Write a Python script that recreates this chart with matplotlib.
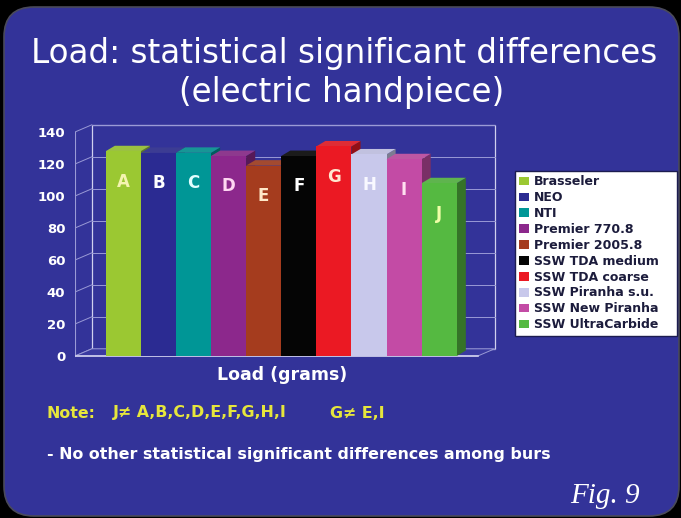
import matplotlib
matplotlib.use("Agg")
import matplotlib.pyplot as plt
from matplotlib.patches import Polygon, Rectangle, FancyBboxPatch
import matplotlib.colors as mcolors
import numpy as np

# ---------------- data ----------------
burs = ["Brasseler", "NEO", "NTI", "Premier 770.8", "Premier 2005.8",
        "SSW TDA medium", "SSW TDA coarse", "SSW Piranha s.u.",
        "SSW New Piranha", "SSW UltraCarbide"]
letters = ["A", "B", "C", "D", "E", "F", "G", "H", "I", "J"]
load = [128, 127, 127, 125, 119, 125, 131, 126, 123, 108]
bar_colors = ["#9bc832", "#2b2b92", "#009696", "#8c288c", "#a53c1e",
              "#050505", "#eb1923", "#c8c8eb", "#c34ba5", "#55b941"]
letter_colors = ["#f4f4b0", "#ffffff", "#e0ffff", "#ffd6f2", "#ffe8c8",
                 "#ffffff", "#ffe8d0", "#f8f8ff", "#ffe0f0", "#f0ffa8"]
yticks = [0, 20, 40, 60, 80, 100, 120, 140]

BG = "#333399"
W, H = 681, 518

fig = plt.figure(figsize=(W / 100, H / 100), dpi=100)
fig.patch.set_facecolor("black")

# background slide axes in pixel coordinates (y from top)
bg = fig.add_axes([0, 0, 1, 1], zorder=0)
bg.set_xlim(0, W)
bg.set_ylim(H, 0)
bg.axis("off")
bg.add_patch(FancyBboxPatch((4, 7), 675, 509,
                            boxstyle="round,pad=0,rounding_size=30",
                            facecolor=BG, edgecolor="#4a4a5a", linewidth=1.2))

# titles and notes
bg.text(344, 63, "Load: statistical significant differences", color="white",
        fontsize=23.5, ha="center", va="baseline", family="DejaVu Sans")
bg.text(342, 102, "(electric handpiece)", color="white",
        fontsize=23.5, ha="center", va="baseline", family="DejaVu Sans")
bg.text(282, 375, "Load (grams)", color="white", fontsize=12.5,
        fontweight="bold", ha="center", va="center")
yellow = "#e6e63c"
bg.text(47, 413, "Note:", color=yellow, fontsize=11.4, fontweight="bold",
        ha="left", va="center")
bg.text(113, 413, "J\u2260 A,B,C,D,E,F,G,H,I", color=yellow, fontsize=11.4,
        fontweight="bold", ha="left", va="center")
bg.text(330, 413, "G\u2260 E,I", color=yellow, fontsize=11.4,
        fontweight="bold", ha="left", va="center")
bg.text(47, 455, "- No other statistical significant differences among burs",
        color="white", fontsize=11.4, fontweight="bold", ha="left", va="center")
bg.text(570, 503, "Fig. 9", color="white", fontsize=21, style="italic",
        family="Liberation Serif", ha="left", va="baseline")

# ---------------- chart axes ----------------
x0, x1 = -1.375, 10.1
xlim = (-1.375, 10.8)
ylim = (-6, 148)
px_per_x = 35.1
px_per_y = 1.6
ax_left = 75
ax_right = ax_left + (xlim[1] - xlim[0]) * px_per_x
ax_bottom_px = 356 + (0 - ylim[0]) * px_per_y
ax_top_px = 356 - ylim[1] * px_per_y
ax = fig.add_axes([ax_left / W, (H - ax_bottom_px) / H,
                   (ax_right - ax_left) / W, (ax_bottom_px - ax_top_px) / H],
                  zorder=1)
ax.set_xlim(*xlim)
ax.set_ylim(*ylim)
ax.patch.set_visible(False)
for s in ax.spines.values():
    s.set_visible(False)
ax.set_xticks([])
ax.set_yticks(yticks)
ax.set_yticklabels([str(v) for v in yticks], color="white",
                   fontsize=9.5, fontweight="bold")
ax.tick_params(axis="y", length=0, pad=7)

grid_c = "#9a9ad6"
edge_c = "#d0d0ee"
wdx, wdy = 0.48, 4.5
ymax = yticks[-1]

# back wall, left wall, floor
ax.add_patch(Rectangle((x0 + wdx, wdy), x1 - x0, ymax, facecolor="none",
                       edgecolor=edge_c, linewidth=0.9, zorder=1))
for v in yticks:
    ax.plot([x0 + wdx, x1 + wdx], [v + wdy, v + wdy], color=grid_c,
            linewidth=0.7, zorder=1)
    ax.plot([x0, x0 + wdx], [v, v + wdy], color=grid_c, linewidth=0.7, zorder=1)
ax.plot([x0, x0], [0, ymax], color=grid_c, linewidth=0.8, zorder=1)
ax.add_patch(Polygon([(x0, 0), (x1, 0), (x1 + wdx, wdy), (x0 + wdx, wdy)],
                     closed=True, facecolor="#3a3aa0", edgecolor=grid_c,
                     linewidth=0.7, zorder=1.5))
ax.plot([x0, x1], [0, 0], color=edge_c, linewidth=1.2, zorder=2)

# bars with 3D faces
bdx, bdy = 0.26, 3.4
xs = np.arange(len(load))
bars = ax.bar(xs, load, width=1.0, color=bar_colors, linewidth=0, zorder=3)
for i, (rect, c) in enumerate(zip(bars, bar_colors)):
    z = 3 + i * 0.01
    rect.set_zorder(z + 0.005)
    bx, bw, bh = rect.get_x(), rect.get_width(), rect.get_height()
    rgb = np.array(mcolors.to_rgb(c))
    side = rgb * 0.62
    top = rgb * 0.85 + 0.15 * np.array([1, 1, 1]) * 0.6
    ax.add_patch(Polygon([(bx + bw, 0), (bx + bw + bdx, bdy),
                          (bx + bw + bdx, bh + bdy), (bx + bw, bh)],
                         closed=True, facecolor=side, edgecolor="none", zorder=z))
    ax.add_patch(Polygon([(bx, bh), (bx + bw, bh), (bx + bw + bdx, bh + bdy),
                          (bx + bdx, bh + bdy)],
                         closed=True, facecolor=np.clip(top, 0, 1),
                         edgecolor="none", zorder=z))
    ax.text(bx + bw / 2, bh - 19, letters[i], color=letter_colors[i],
            fontsize=12, fontweight="bold", ha="center", va="center",
            zorder=10)

# legend
leg = fig.legend(bars, burs, loc="upper left",
                 bbox_to_anchor=(515 / W, (H - 336) / H, 162 / W, 165 / H),
                 mode="expand", borderaxespad=0, frameon=True, fancybox=False,
                 prop={"weight": "bold", "size": 9},
                 handlelength=0.75, handleheight=0.7, handletextpad=0.4,
                 labelspacing=0.23, borderpad=0.35)
leg.get_frame().set_facecolor("white")
leg.get_frame().set_edgecolor("#1c1c50")
leg.get_frame().set_linewidth(1.0)
leg.get_frame().set_alpha(1)
for t in leg.get_texts():
    t.set_color("#1c1c3c")

fig.savefig("out.png", dpi=100, facecolor=fig.get_facecolor())
